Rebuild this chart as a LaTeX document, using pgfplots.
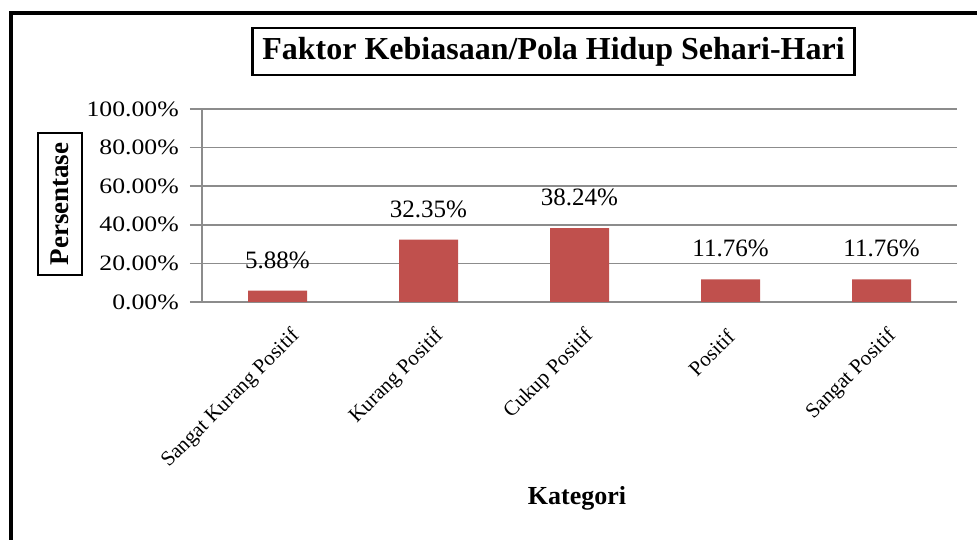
\documentclass[border=0pt]{standalone}
\usepackage{pgfplots}
\pgfplotsset{compat=1.18}
\usepackage{fontspec}
\setmainfont{Liberation Serif}
\newfontfamily\widefont[FakeStretch=1.17]{Liberation Serif}
\definecolor{barred}{HTML}{C0504D}
\definecolor{gridgray}{HTML}{8C8C8C}
\begin{document}
\begin{tikzpicture}[x=1pt,y=1pt]
\path[use as bounding box] (0,0) rectangle (977,540);
\draw[line width=4pt] (10.5,0) -- (10.5,526.5) -- (977,526.5);
\begin{axis}[
  at={(202pt,238pt)}, anchor=south west,
  scale only axis, width=755pt, height=193pt,
  ymin=0, ymax=100, xmin=-0.5, xmax=4.5,
  ytick={0,20,...,100},
  xtick={0.126,1.079,2.07,3.003,4.076},
  xticklabels={Sangat Kurang Positif, Kurang Positif, Cukup Positif, Positif, Sangat Positif},
  axis lines*=left,
  ymajorgrids, major grid style={gridgray, line width=1.5pt},
  axis line style={gridgray, line width=1.5pt},
  y tick style={gridgray, line width=1.5pt},
  major tick length=12pt, tick align=outside,
  x tick style={draw=none},
  /pgf/number format/assume math mode=true,
  yticklabel={\pgfmathprintnumber[fixed,fixed zerofill,precision=2]{\tick}\%},
  yticklabel style={font=\widefont\fontsize{22}{22}\selectfont, anchor=east, inner sep=0pt, xshift=-11pt},
  xticklabel style={font=\rmfamily\fontsize{21}{21}\selectfont, inner sep=0pt, anchor=east, yshift=-19pt, rotate=45},
  ybar, bar width=59pt,
  nodes near coords={\pgfmathprintnumber[fixed,fixed zerofill,precision=2]{\pgfplotspointmeta}\%},
  nodes near coords style={font=\rmfamily\fontsize{25}{25}\selectfont, anchor=base, inner sep=0pt, yshift=22.5pt, black},
]
\addplot[fill=barred, draw=none] coordinates {(0,5.88) (1,32.35) (2,38.24) (3,11.76) (4,11.76)};
\end{axis}
\node[draw, line width=2.5pt, inner xsep=10pt, minimum height=47pt, font=\rmfamily\bfseries\fontsize{32}{32}\selectfont] at (553.5,488.5) {Faktor Kebiasaan/Pola Hidup Sehari-Hari};
\node[draw, line width=2.5pt, rotate=90, minimum width=142pt, minimum height=44pt, font=\rmfamily\bfseries\fontsize{27}{27}\selectfont] at (60,336) {Persentase};
\node[font=\rmfamily\bfseries\fontsize{26}{26}\selectfont] at (577,42) {Kategori};
\end{tikzpicture}
\end{document}
